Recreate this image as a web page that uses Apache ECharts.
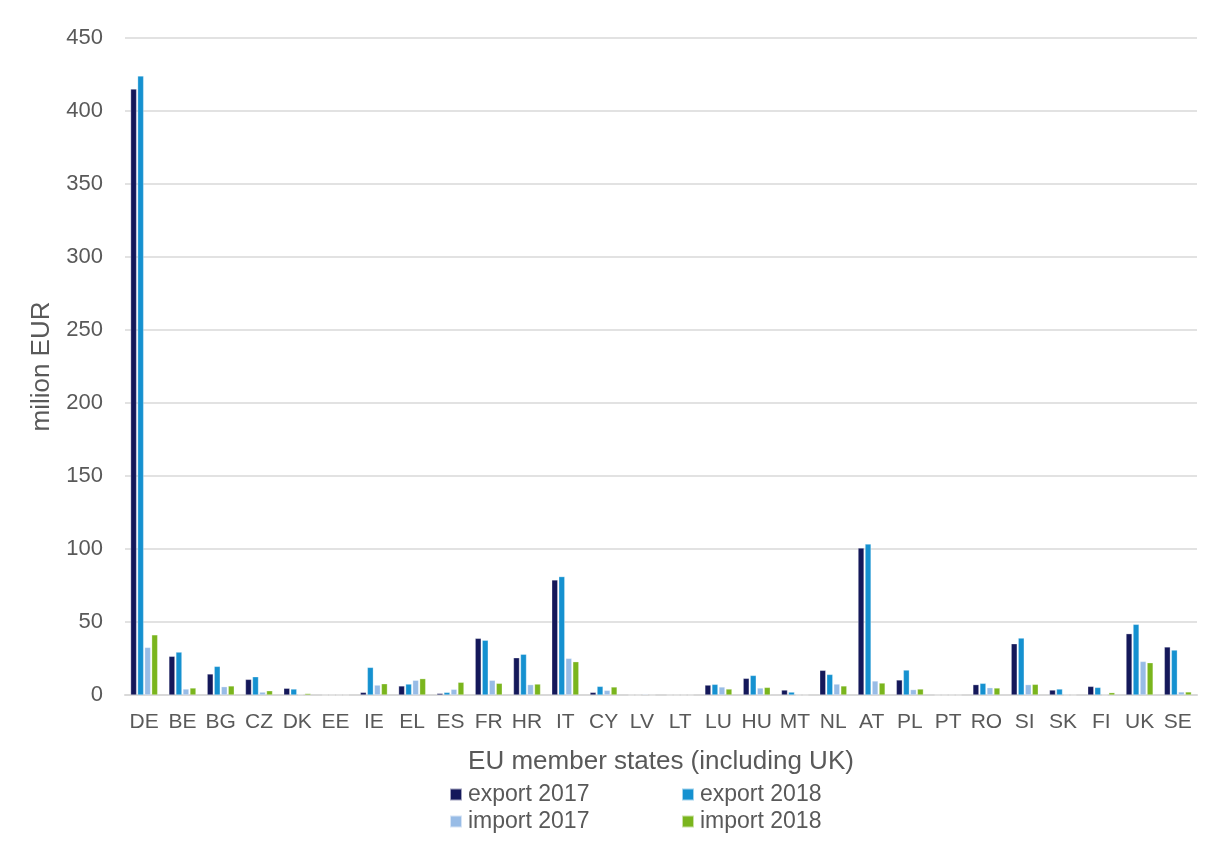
<!DOCTYPE html>
<html><head><meta charset="utf-8">
<script src="https://cdn.jsdelivr.net/npm/echarts@6/dist/echarts.min.js"></script>
<style>html,body{margin:0;padding:0;background:#fff}#c{width:1207px;height:841px}</style>
</head><body><div id="c"></div>
<script>
const categories = ["DE","BE","BG","CZ","DK","EE","IE","EL","ES","FR","HR","IT","CY","LV","LT","LU","HU","MT","NL","AT","PL","PT","RO","SI","SK","FI","UK","SE"];
const export2017 = [415,26.5,14.4,10.7,4.6,0,1.8,6.2,1.1,38.8,25.5,78.8,1.8,0,0,6.8,11.4,3.4,16.9,100.7,10.3,0,7.1,35.1,3.4,5.9,42,32.9];
const export2018 = [424,29.4,19.6,12.5,4.1,0,18.9,7.5,1.8,37.5,27.9,81.1,5.9,0,0,7.3,13.4,2.0,14.1,103.4,17.1,0,8.0,39.0,4.1,5.2,48.4,30.8];
const import2017 = [32.6,4.1,5.7,2.0,0.3,0,6.8,10.1,3.9,10.1,7.1,25.1,3.2,0.5,0,5.5,4.8,0,7.5,9.6,3.7,0,5.0,7.1,0,0,23.0,2.1];
const import2018 = [41.2,4.8,6.2,2.9,1.0,0,7.7,11.2,8.7,8.0,7.5,22.8,5.5,0,0,4.1,5.2,0,6.2,8.2,4.1,0,4.8,7.3,0,1.6,22.1,2.1];
const seriesNames = ["export 2017","export 2018","import 2017","import 2018"];
const colors = ["#14185A","#1591D0","#98BCE6","#7AB51D"];

const chart = echarts.init(document.getElementById('c'));
const font = "Liberation Sans, Arial, sans-serif";
const txt = {fontFamily: font, fontSize: 21, color: '#595959'};
function leg(name, left, top){
  return {data:[name], left:left, top:top, icon:'rect', itemWidth:12, itemHeight:12, itemGap:0,
    padding:0, textStyle:Object.assign({}, txt, {fontSize:23, padding:[0,0,0,1]}), selectedMode:false};
}
const datas = [export2017, export2018, import2017, import2018];
chart.setOption({
  animation:false,
  color: colors,
  grid:{left:125, right:10, top:38, bottom:146, containLabel:false},
  legend:[leg(seriesNames[0],449,783), leg(seriesNames[1],681,783), leg(seriesNames[2],449,810), leg(seriesNames[3],681,810)],
  xAxis:{type:'category', data:categories,
    axisLine:{lineStyle:{color:'#d9d9d9', width:2}}, axisTick:{show:false},
    axisLabel:Object.assign({}, txt, {margin:17, interval:0}),
    name:'EU member states (including UK)', nameLocation:'middle', nameGap:54,
    nameTextStyle:Object.assign({}, txt, {fontSize:26})},
  yAxis:{type:'value', min:0, max:450, interval:50,
    splitLine:{lineStyle:{color:'#d9d9d9', width:1.5}},
    axisLine:{show:false}, axisTick:{show:false},
    axisLabel:Object.assign({}, txt, {fontSize:22, margin:22}),
    name:'milion EUR', nameLocation:'middle', nameGap:70,
    nameTextStyle:Object.assign({}, txt, {fontSize:26})},
  series: seriesNames.map((n,i)=>({name:n, type:'bar', data:datas[i], barWidth:6, barGap:'17%',
    itemStyle:{color:colors[i], borderColor:'rgba(255,255,255,0.6)', borderWidth:0.5}}))
});
</script></body></html>
